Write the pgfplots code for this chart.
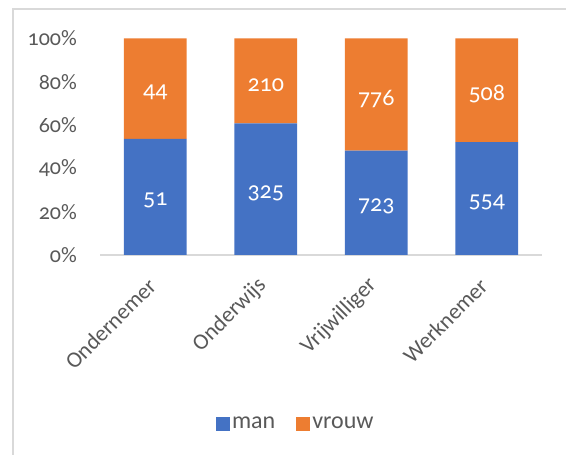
\documentclass[border=0pt]{standalone}
\usepackage{pgfplots}
\pgfplotsset{compat=1.18}
\usepackage{pgfplotstable}
\usepackage{fontspec}
\setmainfont{Carlito}[Numbers=OldStyle]
\definecolor{cblue}{HTML}{4472C4}
\definecolor{corange}{HTML}{ED7D31}
\definecolor{ctext}{HTML}{595959}
\definecolor{cline}{HTML}{D9D9D9}

% shares in percent, raw counts, and the middle of each segment
\pgfplotstableread{
x manp vrouwp man vrouw manmid vrouwmid
0 53.68 46.32 51 44 26.84 76.84
1 60.75 39.25 325 210 30.375 80.375
2 48.23 51.77 723 776 24.115 74.115
3 52.17 47.83 554 508 26.085 76.085
}\data

\begin{document}
\begin{tikzpicture}
\useasboundingbox (0,0) rectangle (566bp,455bp);
\draw[cline, line width=1.5bp] (13bp,-2bp) -- (13bp,446bp) -- (570bp,446bp);
\begin{axis}[
  at={(100bp,200bp)}, anchor=south west,
  scale only axis, width=442bp, height=216.5bp,
  ybar stacked, bar width=62.7bp,
  xmin=-0.5, xmax=3.5, ymin=0, ymax=100,
  axis x line*=bottom, axis y line*=left,
  x axis line style={draw=cline, line width=1.3bp, -},
  y axis line style={draw=none},
  major tick length=0pt,
  xtick={0,1,2,3},
  xticklabels={Ondernemer,Onderwijs,Vrijwilliger,Werknemer},
  xticklabel style={xshift=-3bp, yshift=-27bp, rotate=45, anchor=east, inner sep=0pt,
    text=ctext, font=\fontsize{22.5bp}{26bp}\selectfont},
  ytick={0,20,40,60,80,100},
  yticklabels={0\%,20\%,40\%,60\%,80\%,100\%},
  yticklabel style={anchor=east, inner sep=0pt, xshift=-23bp,
    text=ctext, font=\fontsize{22bp}{26bp}\selectfont},
  legend style={at={(0.443,-0.78)}, anchor=center, draw=none, fill=none,
    legend columns=2, font=\fontsize{24bp}{28bp}\selectfont, text=ctext,
    /tikz/every even column/.append style={column sep=19bp}},
  legend image code/.code={\fill[#1] (0bp,-7bp) rectangle (14bp,7bp);},
]
\addplot[fill=cblue, draw=none] table[x=x, y=manp] {\data};
\addplot[fill=corange, draw=none] table[x=x, y=vrouwp] {\data};
\legend{man,vrouw}
\end{axis}
\begin{axis}[
  at={(100bp,200bp)}, anchor=south west,
  scale only axis, width=442bp, height=216.5bp,
  xmin=-0.5, xmax=3.5, ymin=0, ymax=100,
  hide axis,
  point meta=explicit symbolic,
  nodes near coords={\pgfplotspointmeta},
  nodes near coords style={anchor=center, inner sep=0pt, text=white, yshift=-4bp,
    font=\fontsize{24bp}{28bp}\selectfont},
]
\addplot[draw=none, mark=none] table[x=x, y=manmid, meta=man] {\data};
\addplot[draw=none, mark=none] table[x=x, y=vrouwmid, meta=vrouw] {\data};
\end{axis}
\end{tikzpicture}
\end{document}
